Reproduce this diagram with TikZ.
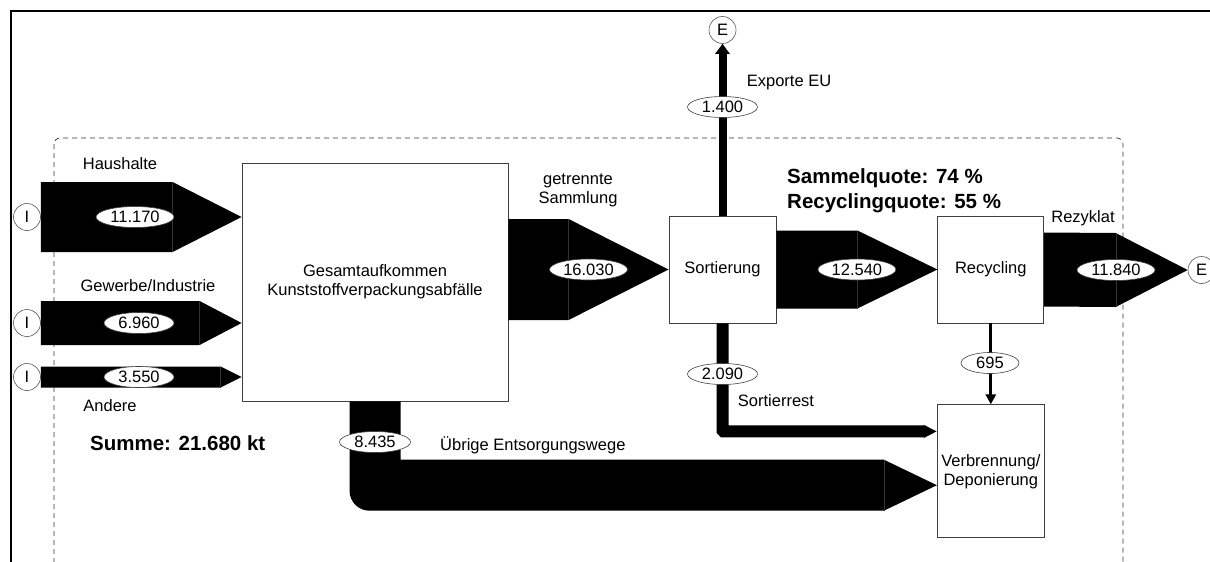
\documentclass[tikz,border=0pt]{standalone}
\usepackage{fontspec}
\setmainfont{Liberation Sans}
\usetikzlibrary{shapes,arrows.meta,calc,positioning}

\tikzstyle{stage} = [draw=black!75, fill=white, line width=0.8pt, align=center, inner sep=0pt]
\tikzstyle{amount} = [ellipse, draw=black!75, fill=white, line width=0.6pt, inner sep=0pt,
    minimum width=70pt, minimum height=21pt]
\tikzstyle{endpoint} = [circle, draw=black!65, fill=white, line width=0.6pt, inner sep=0pt, minimum size=27pt]
\tikzstyle{flowtext} = [align=center, inner sep=0pt]
\tikzstyle{seam} = [draw=black!80, line width=0.3pt]
\tikzset{
  quote/.style ={align=left, inner sep=0pt, anchor=west, font=\bfseries\fontsize{20.5}{25}\selectfont}
}

% filled flow band with arrow head: start, tip, half width, head length
\newcommand{\flowarrow}[4]{%
  \fill ($(#1)+(0,-#3)$) -- ($(#2)+(-#4,-#3)$) -- (#2) -- ($(#2)+(-#4,#3)$) -- ($(#1)+(0,#3)$) -- cycle;
  \draw[seam] ($(#2)+(-#4,-#3)$) -- ($(#2)+(-#4,#3)$);}

\begin{document}
\begin{tikzpicture}[x=1pt,y=-1pt,every node/.style={font=\fontsize{16.5}{19}\selectfont}]
  \useasboundingbox (0,0) rectangle (1210,562);
  \clip (0,0) rectangle (1210,562);
  \draw[line width=2pt] (11,562) -- (11,11) -- (1210,11);
  \draw[black!80, line width=0.7pt, dash pattern=on 5pt off 4pt, rounded corners=6pt] (54,138) rectangle (1123,568);

  \node[stage, minimum width=266pt, minimum height=238pt] (gesamt) at (375,282) {Gesamtaufkommen\\Kunststoffverpackungsabfälle};
  \node[stage, minimum width=107pt, minimum height=107pt] (sort) at (722.5,269.5) {Sortierung};
  \node[stage, minimum width=106pt, minimum height=107pt, right=161pt of sort] (recyc) {Recycling};
  \node[stage, minimum width=107pt, minimum height=133pt, below=81pt of recyc] (verb) {Verbrennung/\\Deponierung};

  \node[endpoint] (iH) at (27,217) {I};
  \node[endpoint] (iG) at (27,323) {I};
  \node[endpoint] (iA) at (27,377) {I};
  \node[endpoint] (eTop) at (722.5,30) {E};
  \node[endpoint] (eR) at (1201.5,270) {E};

  % inputs
  \flowarrow{iH.east}{gesamt.west |- iH}{35}{69}
  \flowarrow{iG.east}{gesamt.west |- iG}{22}{42}
  \flowarrow{iA.east}{gesamt.west |- iA}{10.5}{21}

  % main chain
  \flowarrow{gesamt.east |- sort}{sort.west}{50.5}{100}
  \flowarrow{sort.east}{recyc.west}{39}{80}
  \flowarrow{recyc.east}{eR.west}{37}{72}

  \draw[line width=8pt, -{Triangle[width=14pt,length=10pt]}] (sort.north) -- (eTop.south);
  \draw[line width=3pt, -{Triangle[width=10pt,length=10pt]}] (recyc.south) -- (recyc.south |- verb.north);

  \coordinate (rIn) at ($(verb.north west)+(0,27)$);
  \draw[line width=12pt, rounded corners=1pt, -{Triangle[width=12pt,length=13pt]}] (sort.south) |- (rIn);

  \coordinate (uTip) at ($(verb.south west)+(0,-53)$);
  \fill ($(gesamt.south)+(-25.5,0)$) -- ($(gesamt.south |- uTip)+(-25.5,5.5)$)
    arc[start angle=180, end angle=90, radius=20] -- ($(uTip)+(-53,25.5)$) -- (uTip)
    -- ($(uTip)+(-53,-25.5)$) -- ($(gesamt.south |- uTip)+(25.5,-25.5)$) -- ($(gesamt.south)+(25.5,0)$) -- cycle;
  \draw[seam] ($(uTip)+(-53,25.5)$) -- ($(uTip)+(-53,-25.5)$);

  \node[amount, minimum width=78pt] (vH) at (135,217) {11.170};
  \node[amount] (vG) at (139,323) {6.960};
  \node[amount] (vA) at (139,377) {3.550};
  \node[amount, minimum width=78pt] (vS) at ($(gesamt.east |- sort)!0.5!(sort.west)$) {16.030};
  \node[amount, minimum width=78pt] (vR) at ($(sort.east)!0.5!(recyc.west)$) {12.540};
  \node[amount, minimum width=78pt] (vZ) at (1116,270) {11.840};
  \node[amount] (vX) at (722.5,107) {1.400};
  \node[amount] (vRest) at (722.5,374) {2.090};
  \node[amount, minimum width=71pt] (vU) at (375,442) {8.435};
  \node[amount, minimum width=58pt] (vV) at (990,363) {695};

  \node[flowtext] at (120,164) {Haushalte};
  \node[flowtext] at (148,286) {Gewerbe/Industrie};
  \node[flowtext] at (110,406) {Andere};
  \node[flowtext] at (578,190.5) {getrennte\\Sammlung};
  \node[flowtext] at (789,83) {Exporte EU};
  \node[flowtext] at (1083,218) {Rezyklat};
  \node[flowtext] at (776,401) {Sortierrest};
  \node[flowtext, anchor=west] at (440,445) {Übrige Entsorgungswege};

  \node[quote] at (787,190.5) {Sammelquote: 74 \%\\Recyclingquote: 55 \%};
  \node[quote] at (90,443) {Summe: 21.680 kt};
\end{tikzpicture}
\end{document}
